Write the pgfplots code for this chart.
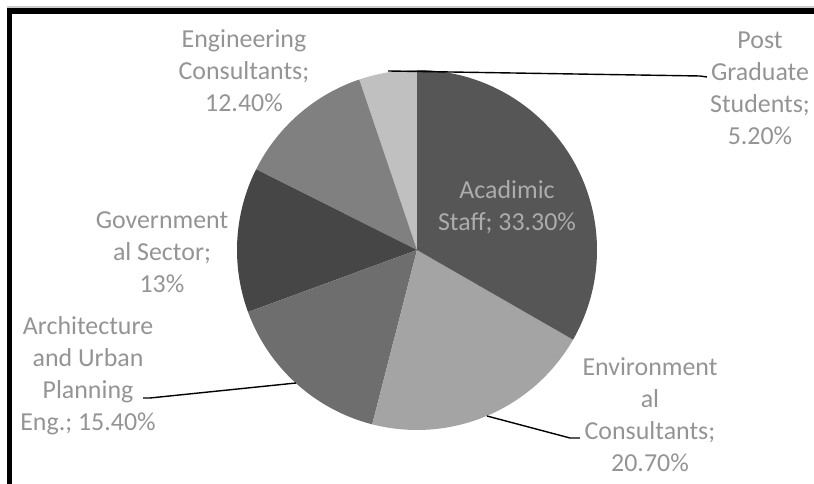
\documentclass[border=0pt]{standalone}
\usepackage{pgfplots}
\pgfplotsset{compat=1.18}
\usepackage{fontspec}
\setmainfont{Carlito}

\definecolor{labgray}{RGB}{148,148,148}
\definecolor{inlab}{RGB}{172,172,172}
\definecolor{cAcad}{RGB}{86,86,86}
\definecolor{cEnv}{RGB}{164,164,164}
\definecolor{cArch}{RGB}{110,110,110}
\definecolor{cGov}{RGB}{70,70,70}
\definecolor{cEng}{RGB}{128,128,128}
\definecolor{cPost}{RGB}{192,192,192}

% one wedge: #1 = share before it (percent), #2 = share (percent), #3 = colour
% slices go counter-clockwise from the top, centre (417,234), radius 180
\newcommand\pieslice[3]{%
  \pgfmathsetmacro\angA{90+3.6*#1}%
  \pgfmathsetmacro\angB{90+3.6*(#1+#2)}%
  \edef\doslice{\noexpand\addplot[fill=#3, draw=none, domain=\angA:\angB, samples=90, variable=\noexpand\t]}%
  \doslice ({417+180*cos(\t)},{234+180*sin(\t)}) -- (axis cs:417,234) -- cycle;
}

\begin{document}
\begin{tikzpicture}
\begin{axis}[
  width=814bp, height=484bp, scale only axis,
  xmin=0, xmax=814, ymin=0, ymax=484,
  hide axis, clip=false,
]
% frame (left and top edges only)
\fill[black!20] (axis cs:7,476) rectangle (axis cs:814,477.5);
\fill[black] (axis cs:7,470) rectangle (axis cs:814,476);
\fill[black] (axis cs:7,0) rectangle (axis cs:12,476);

% shares in percent: Post Grad 5.2, Eng. Consultants 12.4, Gov. 13,
% Architecture 15.4, Environmental 20.7, Academic 33.3
\pieslice{0}{5.2}{cPost}
\pieslice{5.2}{12.4}{cEng}
\pieslice{17.6}{13}{cGov}
\pieslice{30.6}{15.4}{cArch}
\pieslice{46.0}{20.7}{cEnv}
\pieslice{66.7}{33.3}{cAcad}

% leader lines
\draw[black, line width=1.4bp] (axis cs:388,413) -- (axis cs:700,408) -- (axis cs:707,407);
\draw[black, line width=1.4bp] (axis cs:143,86) -- (axis cs:150,86) -- (axis cs:296,101);
\draw[black, line width=1.4bp] (axis cs:487,68) -- (axis cs:570,46) -- (axis cs:580,46);

\begin{scope}[every node/.style={align=center, font=\fontsize{26}{32}\selectfont, inner sep=0pt}]
\node[text=labgray] at (axis cs:244,413) {Engineering\\Consultants;\\12.40\%};
\node[text=labgray] at (axis cs:760,396) {Post\\Graduate\\Students;\\5.20\%};
\node[text=inlab]   at (axis cs:507,277) {Acadimic\\Staff; 33.30\%};
\node[text=labgray] at (axis cs:162,232) {Government\\al Sector;\\13\%};
\node[text=labgray] at (axis cs:88,108) {Architecture\\and Urban\\Planning\\Eng.; 15.40\%};
\node[text=labgray] at (axis cs:650,69) {Environment\\al\\Consultants;\\20.70\%};
\end{scope}
\end{axis}
\pgfresetboundingbox
\useasboundingbox (current axis.south west) rectangle (current axis.north east);
\end{tikzpicture}
\end{document}
